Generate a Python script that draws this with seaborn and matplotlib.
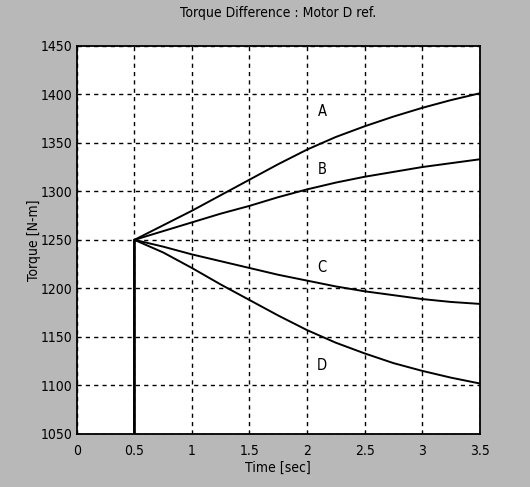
import numpy as np
import pandas as pd
import seaborn as sns
import matplotlib
matplotlib.use("Agg")
import matplotlib.pyplot as plt

# ---- data ----
time = [0.5, 0.5, 0.75, 1.0, 1.25, 1.5, 1.75, 2.0, 2.25, 2.5, 2.75, 3.0, 3.25, 3.5]
curve_a = [1050, 1250, 1265, 1280, 1296, 1312, 1328, 1343, 1356, 1367, 1377, 1386, 1394, 1401]
curve_b = [1050, 1250, 1259, 1268, 1277, 1285, 1294, 1302, 1309, 1315, 1320, 1325, 1329, 1333]
curve_c = [1050, 1250, 1243, 1235, 1228, 1221, 1214, 1208, 1202, 1197, 1193, 1189, 1186, 1184]
curve_d = [1050, 1250, 1237, 1221, 1204, 1188, 1172, 1157, 1144, 1133, 1123, 1115, 1108, 1102]
curve_names = ["A", "B", "C", "D"]
label_x = [2.13, 2.13, 2.13, 2.13]
label_y = [1382, 1322, 1221, 1121]
x_ticks = [0, 0.5, 1, 1.5, 2, 2.5, 3, 3.5]
x_tick_labels = ["0", "0.5", "1", "1.5", "2", "2.5", "3", "3.5"]
y_ticks = [1050, 1100, 1150, 1200, 1250, 1300, 1350, 1400, 1450]

df = pd.DataFrame({
    "Time": time * 4,
    "Torque": curve_a + curve_b + curve_c + curve_d,
    "Curve": [n for n in curve_names for _ in time],
})

sns.set_style("white")
plt.rcParams["font.family"] = ["DejaVu Sans"]
plt.rcParams["font.stretch"] = "condensed"
plt.rcParams["text.color"] = "black"
plt.rcParams["axes.labelcolor"] = "black"

fig = plt.figure(figsize=(5.3, 4.87), dpi=100, facecolor="#b8b8b8")
ax = fig.add_axes([0.145, 0.109, 0.760, 0.797])
ax.set_facecolor("white")

sns.lineplot(data=df, x="Time", y="Torque", units="Curve", estimator=None,
             color="black", linewidth=1.4, sort=False, ax=ax, legend=False)

for n, lx, ly in zip(curve_names, label_x, label_y):
    ax.text(lx, ly, n, fontsize=10.5, ha="center", va="center", color="black")

ax.set_xlim(0, 3.5)
ax.set_ylim(1050, 1450)
ax.set_xticks(x_ticks)
ax.set_xticklabels(x_tick_labels)
ax.set_yticks(y_ticks)
ax.grid(True, color="black", linestyle=(0, (3, 3)), linewidth=1.0)
ax.tick_params(direction="in", length=4, labelsize=10, colors="black",
               labelcolor="black", width=1)
ax.tick_params(axis="x", pad=7)
ax.tick_params(axis="y", pad=3)
for s in ax.spines.values():
    s.set_color("black")
    s.set_linewidth(1.3)

ax.set_title("Torque Difference : Motor D ref.", fontsize=10, pad=21, color="black")
ax.set_xlabel("Time [sec]", fontsize=10, labelpad=2, color="black")
ax.set_ylabel("Torque [N-m]", fontsize=10, labelpad=0, color="black")

fig.savefig("out.png", dpi=100, facecolor=fig.get_facecolor())
